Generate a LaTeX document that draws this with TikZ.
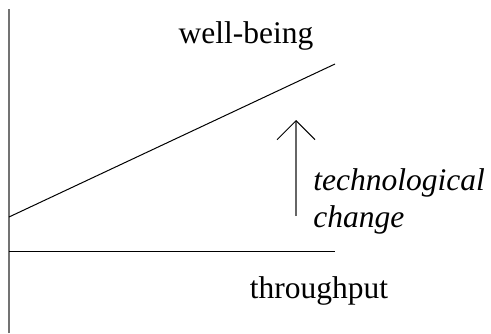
\documentclass[tikz,border=0pt]{standalone}
\usepackage{fontspec}
\setmainfont{Liberation Serif}
\usetikzlibrary{arrows.meta}
\tikzset{
  lbl/.style={inner sep=0pt,font=\fontsize{15.75}{18.5}\selectfont},
  curve/.style={line width=0.5pt,black}
}
\begin{document}
\begin{tikzpicture}[x=0.5pt,y=0.5pt]
\useasboundingbox (0,0) rectangle (491,333);
% axes
\coordinate (o) at (9,0);
\coordinate (top) at (9,324);
\draw[line width=0.9pt,black!55] (o) -- (top);
\coordinate (h0) at (9,82);
\coordinate (h1) at (335,82);
\draw[curve] (h0) -- (h1);
% well-being line
\coordinate (w0) at (9,116);
\coordinate (w1) at (335,269);
\draw[curve] (w0) -- (w1);
% shift upwards
\coordinate (a0) at (296,117);
\coordinate (a1) at (296,213);
\draw[line width=0.6pt,black!60,-{Straight Barb[length=9.5pt,width=19pt,line width=0.5pt,black]}] (a0) -- (a1);
\node[lbl,anchor=base] (wb) at (246,290) {well-being};
\node[lbl,anchor=base] (tp) at (319,35) {throughput};
\node[lbl,anchor=base west] (tech) at (313,143) {\itshape technological};
\node[lbl,anchor=base west] (chg) at (313,106) {\itshape change};
\end{tikzpicture}
\end{document}
